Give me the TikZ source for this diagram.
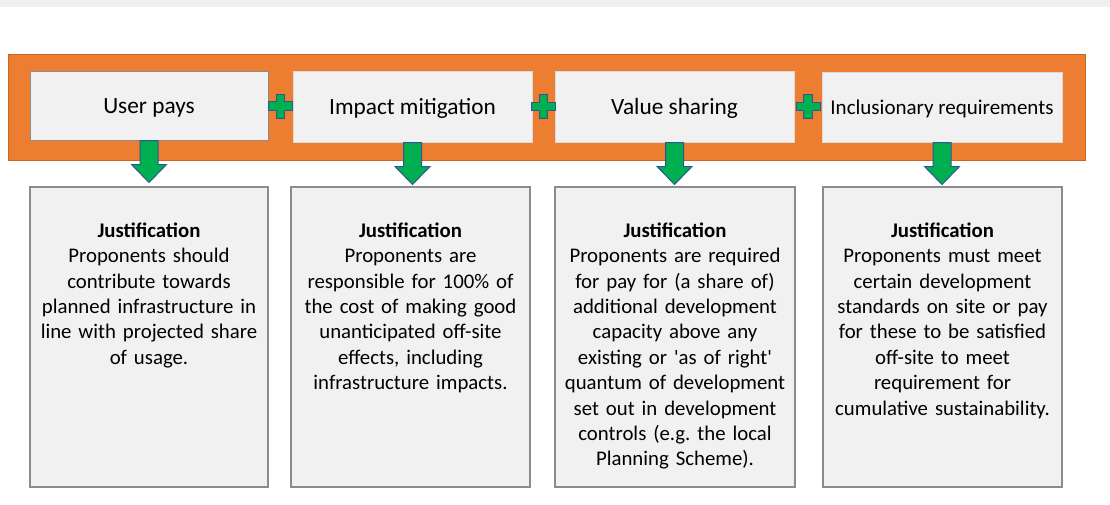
\documentclass[tikz,border=0pt]{standalone}
\usepackage{fontspec}
\setmainfont{Carlito}
\usetikzlibrary{calc}
\frenchspacing
\definecolor{orng}{HTML}{ED7D31}
\definecolor{orngline}{HTML}{C8651E}
\definecolor{boxfill}{HTML}{F1F1F1}
\definecolor{boxline}{HTML}{8C8C8C}
\definecolor{lightline}{HTML}{DADADA}
\definecolor{grn}{HTML}{00B050}
\definecolor{navy}{HTML}{2F5597}
\definecolor{band}{HTML}{F0F0F2}
\begin{document}
\begin{tikzpicture}[x=1pt,y=-1pt,
  headbox/.style={draw=lightline, line width=1pt, fill=boxfill, inner sep=0pt,
    font=\fontsize{23.3}{28}\selectfont, text height=16pt, text depth=0pt,
    minimum width=239pt, minimum height=71pt},
  basebox/.style={draw=boxline, line width=1.2pt, fill=boxfill, inner sep=0pt,
    minimum width=239pt, minimum height=300pt},
  justtext/.style={anchor=north, inner sep=0pt, align=center, text width=236pt,
    font=\fontsize{20.8}{25.4}\selectfont},
  blockarrow/.style={fill=grn, draw=navy, line width=1pt, line join=miter},
  plussign/.pic={\draw[fill=grn, draw=navy, line width=1pt]
    (-4.2,-12) -- (4.2,-12) -- (4.2,-4.2) -- (12,-4.2) -- (12,4.2) -- (4.2,4.2) -- (4.2,12)
    -- (-4.2,12) -- (-4.2,4.2) -- (-12,4.2) -- (-12,-4.2) -- (-4.2,-4.2) -- cycle;}
]
\useasboundingbox (0,0) rectangle (1110,504);
\fill[white] (0,0) rectangle (1110,504);
% light band along the top edge
\fill[band] (0,0) rectangle (1110,7);

% orange frame holding the four approaches
\draw[fill=orng, draw=orngline, line width=0.8pt] (8,54) rectangle (1085,160);

\node[headbox, draw=boxline, minimum width=238pt, minimum height=69pt] (t1) at (149,105.5) {User pays};
\node[headbox] (t2) at (412.5,106.5) {Impact mitigation};
\node[headbox] (t3) at (674.5,106.5) {Value sharing};
\node[headbox, minimum width=240pt, minimum height=70pt, font=\fontsize{21}{26}\selectfont, text height=14.5pt] (t4) at (942,107) {Inclusionary requirements};

% plus signs between the approaches
\pic at ($(t1.east)!0.5!(t2.west)$) {plussign};
\pic at ($(t2.east)!0.5!(t3.west)$) {plussign};
\pic at ($(t3.east)!0.5!(t4.west)$) {plussign};

% justification boxes
\node[basebox, minimum width=238pt] (b1) at (149,337) {};
\node[basebox] (b2) at (410.5,337) {};
\node[basebox, minimum width=240pt] (b3) at (675,337) {};
\node[basebox] (b4) at (942.5,337) {};

\node[justtext] (j1) at ($(b1.north)+(0,36)$) {\textbf{Justification}\\Proponents should\\contribute towards\\planned infrastructure in\\line with projected share\\of usage.};
\node[justtext] (j2) at ($(b2.north)+(0,36)$) {\textbf{Justification}\\Proponents are\\responsible for 100\% of\\the cost of making good\\unanticipated off-site\\effects, including\\infrastructure impacts.};
\node[justtext] (j3) at ($(b3.north)+(0,36)$) {\textbf{Justification}\\Proponents are required\\for pay for (a share of)\\additional development\\capacity above any\\existing or \textquotesingle as of right\textquotesingle\\quantum of development\\set out in development\\controls (e.g.\ the local\\Planning Scheme).};
\node[justtext] (j4) at ($(b4.north)+(0,36)$) {\textbf{Justification}\\Proponents must meet\\certain development\\standards on site or pay\\for these to be satisfied\\off-site to meet\\requirement for\\cumulative sustainability.};

% block arrows from each approach down to its justification
\foreach \s/\e in {t1/b1, t2/b2, t3/b3, t4/b4}{
  \draw[blockarrow] (\s.south) ++(-9,0) -- ++(0,24) -- ++(-8.5,0) -- ++(17.5,18)
    -- ++(17.5,-18) -- ++(-8.5,0) -- ++(0,-24) -- cycle;
}
\end{tikzpicture}
\end{document}
